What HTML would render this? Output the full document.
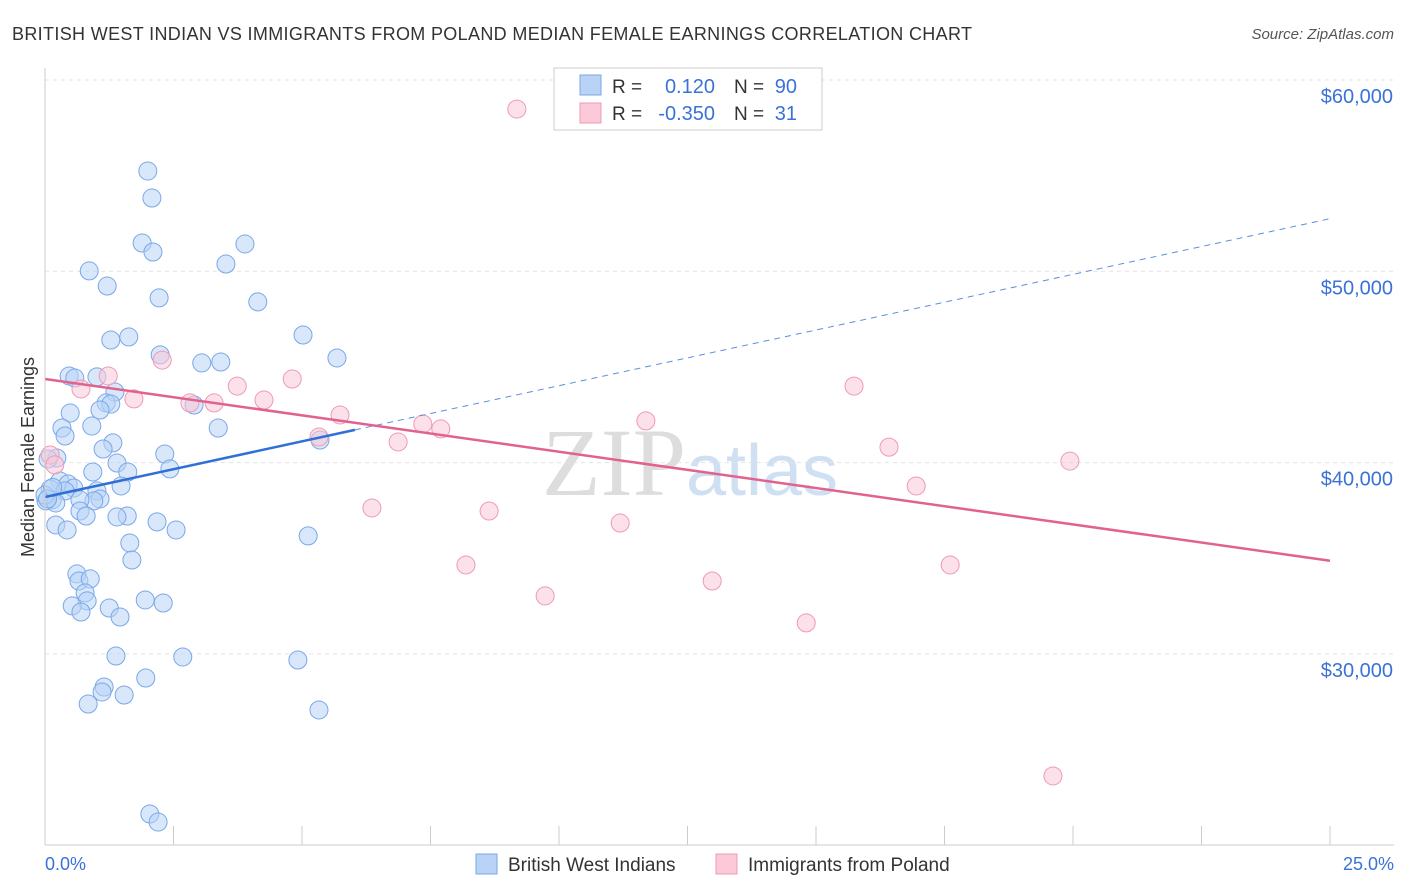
<!DOCTYPE html>
<html><head><meta charset="utf-8"><style>
body{margin:0;background:#fff;font-family:"Liberation Sans",sans-serif;}
svg{display:block}
</style></head><body>
<svg id="chart" width="1406" height="892">
<text x="12" y="40" font-size="18" fill="#333" textLength="960">BRITISH WEST INDIAN VS IMMIGRANTS FROM POLAND MEDIAN FEMALE EARNINGS CORRELATION CHART</text>
<text x="1394" y="39" font-size="15" fill="#555" font-style="italic" text-anchor="end">Source: ZipAtlas.com</text>
<text x="34" y="457" font-size="18" fill="#333" text-anchor="middle" transform="rotate(-90 34 457)">Median Female Earnings</text>
<text x="690" y="495" font-size="96" fill="#ddd" text-anchor="middle" font-family="Liberation Serif">ZIP<tspan fill="#cfe0f2" font-family="Liberation Sans" font-size="72">atlas</tspan></text>
<g id="grid"></g><g id="marks"></g>
<line x1="45" y1="845" x2="1394" y2="845" stroke="#ccc"/>
<line x1="45" y1="68" x2="45" y2="845" stroke="#ccc"/>
<text x="45" y="870" font-size="18" fill="#3a72d8">0.0%</text>
<text x="1394" y="870" font-size="18" fill="#3a72d8" text-anchor="end">25.0%</text>
<g>
<rect x="554" y="68" width="268" height="62" fill="#fff" stroke="#ccc"/>
<rect x="580" y="75" width="21" height="20" fill="#b8d3f5" stroke="#7aa8e8"/>
<rect x="580" y="103" width="21" height="20" fill="#fbc9d8" stroke="#ee9ab4"/>
<text x="612" y="93" font-size="19" fill="#333">R = </text><text x="715" y="93" font-size="20" fill="#3a72d8" text-anchor="end">0.120</text>
<text x="734" y="93" font-size="19" fill="#333">N = </text><text x="797" y="93" font-size="20" fill="#3a72d8" text-anchor="end">90</text>
<text x="612" y="120" font-size="19" fill="#333">R = </text><text x="715" y="120" font-size="20" fill="#3a72d8" text-anchor="end">-0.350</text>
<text x="734" y="120" font-size="19" fill="#333">N = </text><text x="797" y="120" font-size="20" fill="#3a72d8" text-anchor="end">31</text>
</g>
<g>
<rect x="476" y="854" width="21" height="20" fill="#b8d3f5" stroke="#7aa8e8"/>
<text x="508" y="871" font-size="19" fill="#333">British West Indians</text>
<rect x="716" y="854" width="21" height="20" fill="#fbc9d8" stroke="#ee9ab4"/>
<text x="748" y="871" font-size="19" fill="#333">Immigrants from Poland</text>
</g>
</svg>
<script>
const yTicks=[30000,40000,50000,60000];
const yTickLabels=["$30,000","$40,000","$50,000","$60,000"];
const blueX=[2.00,2.08,1.89,2.10,3.89,3.52,0.86,1.21,2.22,4.14,1.28,1.63,5.02,2.24,5.68,3.05,3.42,0.47,1.01,0.58,1.36,1.19,1.28,1.07,0.49,2.90,0.91,3.37,0.33,0.39,1.32,1.13,2.33,0.23,0.06,1.40,1.61,0.93,2.43,0.29,0.45,0.56,1.48,1.01,0.10,0.39,0.14,1.07,0.95,0.02,0.68,0.21,0.68,0.80,1.60,1.40,2.18,0.21,0.43,2.55,5.12,1.65,1.69,0.62,0.66,0.88,0.78,0.82,0.53,1.95,2.30,1.25,0.70,1.46,1.38,2.68,4.92,1.15,1.11,1.54,1.96,0.84,5.33,2.04,2.20,5.35,0.0,0.05,0.15];
const blueY=[55240,53830,51480,51010,51430,50380,50020,49230,48610,48400,46410,46570,46670,45630,45470,45210,45260,44530,44480,44420,43690,43120,43060,42750,42590,43010,41910,41810,41810,41390,41030,40710,40450,40240,40190,39980,39510,39510,39670,39040,38880,38670,38780,38520,38620,38520,38050,38100,38000,38000,38050,37890,37470,37210,37210,37160,36900,36740,36480,36480,36170,35800,34910,34180,33810,33920,33190,32770,32510,32820,32660,32400,32190,31930,29890,29840,29680,28270,28010,27850,28740,27380,27070,21630,21210,41180,38300,38100,38700];
const pinkX=[9.18,2.28,1.23,4.81,3.74,1.73,3.29,4.26,2.82,0.70,5.74,7.35,7.70,5.33,6.87,11.69,15.74,16.42,19.94,16.95,6.36,8.64,11.19,8.19,12.98,17.61,9.73,14.81,19.61,0.10,0.19];
const pinkY=[58480,45360,44530,44370,44000,43330,43120,43270,43120,43850,42490,42020,41760,41340,41080,42180,44000,40810,40080,38780,37630,37470,36840,34650,33810,34650,33030,31620,23620,40400,39880];
const blueTrend=[38200,582];
const pinkTrend=[44370,-380];
const X=v=>45+v/25*1285;
const Y=v=>80+(60000-v)/10000*191.3;
const NS="http://www.w3.org/2000/svg";
const grid=document.getElementById('grid'),marks=document.getElementById('marks');
function mk(tag,attrs,parent){const e=document.createElementNS(NS,tag);for(const k in attrs)e.setAttribute(k,attrs[k]);parent.appendChild(e);return e;}
yTicks.forEach((t,i)=>{
 const l=mk('line',{x1:45,x2:1394,y1:Y(t),y2:Y(t),stroke:'#e3e3e3','stroke-dasharray':'4 4'},grid);
 
 
 const tx=mk('text',{x:1393,y:Y(t)+23,'font-size':20,fill:'#3a72d8','text-anchor':'end'},grid);
 tx.textContent=yTickLabels[i];
 
 
});
for(let i=0;i<=10;i++){const x=X(i*2.5);
 const l=mk('line',{x1:x,x2:x,y1:826,y2:845,stroke:'#ccc'},grid);
 
 }
function dots(xs,ys,fill,stroke,name){xs.forEach((v,i)=>{
 const c=mk('circle',{cx:X(v),cy:Y(ys[i]),r:9,fill:fill,'fill-opacity':0.55,stroke:stroke,'stroke-width':1},marks);
 
 });}
dots(blueX,blueY,'#b8d3f5','#7aa8e8','bwi-point');
dots(pinkX,pinkY,'#fbc9d8','#ee9ab4','poland-point');
const bEnd=6.03;
let l1=mk('line',{x1:X(0),y1:Y(blueTrend[0]),x2:X(bEnd),y2:Y(blueTrend[0]+blueTrend[1]*bEnd),stroke:'#2f6fd6','stroke-width':2.5},marks);


let l2=mk('line',{x1:X(bEnd),y1:Y(blueTrend[0]+blueTrend[1]*bEnd),x2:X(25),y2:Y(blueTrend[0]+blueTrend[1]*25),stroke:'#5a8fe0','stroke-width':1,'stroke-dasharray':'6 5'},marks);


let l3=mk('line',{x1:X(0),y1:Y(pinkTrend[0]),x2:X(25),y2:Y(pinkTrend[0]+pinkTrend[1]*25),stroke:'#e2628f','stroke-width':2.5},marks);


</script>
</body></html>
